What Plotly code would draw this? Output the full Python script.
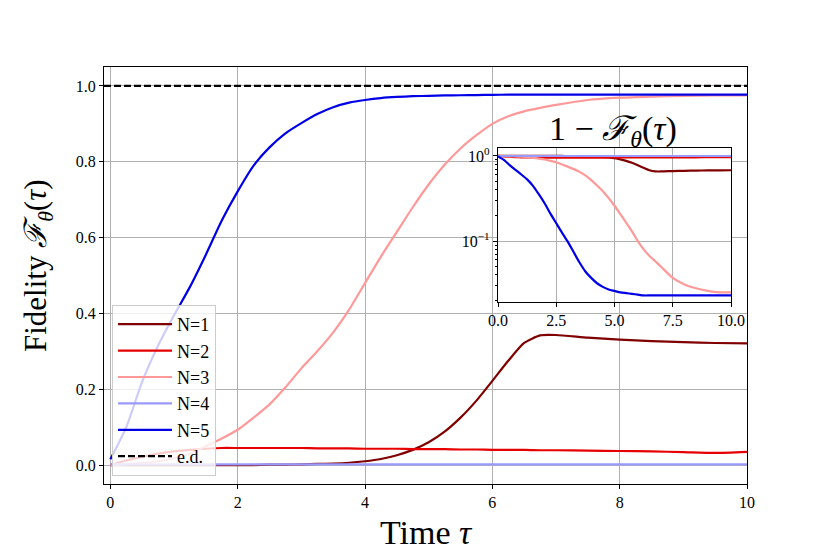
import plotly.graph_objects as go

# ---------------- data ----------------
time = [0.0, 0.25, 0.5, 0.75, 1.0, 1.25, 1.5, 1.75, 2.0, 2.25, 2.5, 2.75, 3.0, 3.25, 3.5,
        3.75, 4.0, 4.25, 4.5, 4.75, 5.0, 5.25, 5.5, 5.75, 6.0, 6.25, 6.5, 6.75, 7.0, 7.5,
        8.0, 8.5, 9.0, 9.5, 10.0]

fid_n1 = [0.0, 0.0, 0.0, 0.0, 0.0, 0.0, 0.0, 0.0, 0.0, 0.0, 0.001, 0.001, 0.002, 0.003, 0.004,
          0.006, 0.01, 0.016, 0.026, 0.04, 0.06, 0.088, 0.125, 0.17, 0.222, 0.275, 0.322, 0.342, 0.343, 0.336,
          0.331, 0.327, 0.324, 0.322, 0.321]
fid_n2 = [0.0, 0.012, 0.022, 0.03, 0.036, 0.04, 0.043, 0.045, 0.045, 0.045, 0.045, 0.045, 0.045, 0.044, 0.044,
          0.044, 0.043, 0.043, 0.043, 0.042, 0.042, 0.042, 0.041, 0.041, 0.04, 0.04, 0.04, 0.039, 0.039, 0.038,
          0.037, 0.036, 0.034, 0.032, 0.035]
fid_n3 = [0.0, 0.002, 0.005, 0.01, 0.018, 0.03, 0.05, 0.07, 0.093, 0.125, 0.16, 0.205, 0.255, 0.3, 0.35,
          0.41, 0.48, 0.55, 0.615, 0.68, 0.74, 0.792, 0.835, 0.87, 0.9, 0.92, 0.933, 0.942, 0.95, 0.963,
          0.969, 0.972, 0.974, 0.975, 0.975]
fid_n4 = [0.002] * 35
fid_n5 = [0.015, 0.1, 0.22, 0.315, 0.395, 0.47, 0.555, 0.645, 0.722, 0.79, 0.838, 0.875, 0.902, 0.926, 0.944,
          0.956, 0.963, 0.968, 0.971, 0.973, 0.974, 0.975, 0.9755, 0.976, 0.9765, 0.977, 0.977, 0.977, 0.977, 0.977,
          0.977, 0.977, 0.977, 0.977, 0.977]
ed_value = 1.0

series_names = ["N=1", "N=2", "N=3", "N=4", "N=5"]
series_data = [fid_n1, fid_n2, fid_n3, fid_n4, fid_n5]
colors = ["#800000", "#e60000", "#ff9999", "#9999ff", "#0000e6"]

main_xticks = [0, 2, 4, 6, 8, 10]
main_yticks = [0.0, 0.2, 0.4, 0.6, 0.8, 1.0]
main_yticklabels = ["0.0", "0.2", "0.4", "0.6", "0.8", "1.0"]
inset_xticks = [0.0, 2.5, 5.0, 7.5, 10.0]
inset_xticklabels = ["0.0", "2.5", "5.0", "7.5", "10.0"]
inset_yticks = [1.0, 0.1]
inset_yticklabels = ["10<sup>0</sup>", "10<sup>−1</sup>"]
inset_minor = [0.02, 0.03, 0.04, 0.05, 0.06, 0.07, 0.08, 0.09, 0.2, 0.3, 0.4, 0.5, 0.6, 0.7, 0.8, 0.9]

FONT = "Liberation Serif"

# layout geometry (pixels)
W, H = 830, 554
L, R, T, B = 104, 747, 67, 484
PW, PH = R - L, B - T


def px_x(p):
    return (p - L) / PW


def px_y(p):
    return (B - p) / PH


fig = go.Figure()

for name, vals, col in zip(series_names, series_data, colors):
    fig.add_trace(go.Scatter(x=time, y=vals, mode="lines", name=name,
                             line=dict(color=col, width=2.2, shape="spline", smoothing=0.6),
                             legendgroup=name, xaxis="x", yaxis="y"))
fig.add_trace(go.Scatter(x=[-0.1] + time, y=[ed_value] * (len(time) + 1), mode="lines", name="e.d.",
                         line=dict(color="black", width=2.2, dash="7px,3px"),
                         legendgroup="ed", xaxis="x", yaxis="y"))

for name, vals, col in zip(series_names, series_data, colors):
    fig.add_trace(go.Scatter(x=time, y=[1 - v for v in vals], mode="lines", showlegend=False,
                             line=dict(color=col, width=2.2, shape="spline", smoothing=0.6),
                             xaxis="x2", yaxis="y2"))

axis_common = dict(showline=True, linecolor="black", linewidth=1.2, mirror=True,
                   ticks="outside", ticklen=4, tickcolor="black", tickwidth=1,
                   showgrid=True, gridcolor="#b0b0b0", gridwidth=1, zeroline=False,
                   automargin=False,
                   tickfont=dict(family=FONT, size=16, color="black"))

fig.update_layout(
    width=W, height=H,
    margin=dict(l=L, r=W - R, t=T, b=H - B, autoexpand=False),
    paper_bgcolor="white", plot_bgcolor="white",
    showlegend=True,
    xaxis=dict(domain=[0, 1], range=[-0.1, 10], tickvals=main_xticks,
               anchor="y", **axis_common),
    yaxis=dict(domain=[0, 1], range=[-0.05, 1.05], tickvals=main_yticks,
               ticktext=main_yticklabels, anchor="x", **axis_common),
    xaxis2=dict(domain=[px_x(498), px_x(731)], range=[0, 10], tickvals=inset_xticks,
                ticktext=inset_xticklabels, anchor="y2", **axis_common),
    yaxis2=dict(domain=[px_y(302), px_y(148)], type="log", range=[-1.715, 0.093],
                tickvals=inset_yticks, ticktext=inset_yticklabels, anchor="x2",
                minor=dict(tickvals=inset_minor, ticks="outside", ticklen=2, tickcolor="black",
                           showgrid=False),
                **axis_common),
    legend=dict(x=px_x(112), y=px_y(305), xanchor="left", yanchor="top",
                bgcolor="rgba(255,255,255,0.8)", bordercolor="#cccccc", borderwidth=1,
                font=dict(family=FONT, size=18, color="black"),
                traceorder="grouped", tracegroupgap=0, itemwidth=54),
    annotations=[
        dict(text="Fidelity <i>ℱ</i><sub><i>θ</i></sub>(<i>τ</i>)", x=px_x(38), y=px_y(266),
             xref="paper", yref="paper", showarrow=False, textangle=-90,
             xanchor="center", yanchor="middle",
             font=dict(family=FONT, size=31, color="black")),
        dict(text="Time <i>τ</i>", x=px_x(426), y=px_y(532), xref="paper", yref="paper",
             showarrow=False, xanchor="center", yanchor="middle",
             font=dict(family=FONT, size=34, color="black")),
        dict(text="1 − <i>ℱ</i><sub><i>θ</i></sub>(<i>τ</i>)", x=px_x(613), y=px_y(131),
             xref="paper", yref="paper", showarrow=False, xanchor="center", yanchor="middle",
             font=dict(family=FONT, size=34, color="black")),
    ],
)

fig.write_html("out.html", config={"displayModeBar": False},
               post_script="document.body.style.margin='0px';")
